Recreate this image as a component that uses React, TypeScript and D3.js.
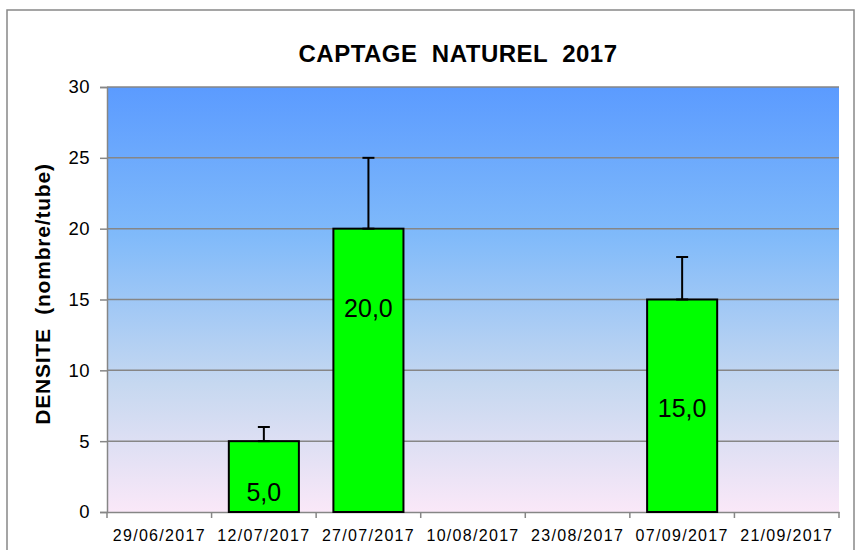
import React, { useEffect, useRef } from "react";
import * as d3 from "d3";

const dates = ["29/06/2017", "12/07/2017", "27/07/2017", "10/08/2017", "23/08/2017", "07/09/2017", "21/09/2017"];
const densite = [0, 5, 20, 0, 0, 15, 0];
const errPlus = [0, 1, 5, 0, 0, 3, 0];
// y value where each bar's label sits (as placed in the original)
const labelAt = [0, 1.4, 14.4, 0, 0, 7.35, 0];
const yTicks = [0, 5, 10, 15, 20, 25, 30];

const App = () => {
    const ref = useRef<HTMLDivElement>(null);

    useEffect(() => {
        const W = 855;
        const H = 550;
        const margin = { top: 87, right: 16, bottom: 38, left: 107 };
        const width = W - margin.left - margin.right;
        const height = H - margin.top - margin.bottom;
        const font = "'Liberation Sans', Arial, sans-serif";

        const svg = d3
            .select(ref.current)
            .html("")
            .append("svg")
            .attr("width", W)
            .attr("height", H)
            .style("display", "block")
            .style("font-family", font);

        const defs = svg.append("defs");
        const grad = defs
            .append("linearGradient")
            .attr("id", "bg")
            .attr("x1", 0)
            .attr("y1", 0)
            .attr("x2", 0)
            .attr("y2", 1);
        grad.append("stop").attr("offset", "0%").attr("stop-color", "#5b9bff");
        grad.append("stop").attr("offset", "35%").attr("stop-color", "#80bafa");
        grad.append("stop").attr("offset", "70%").attr("stop-color", "#c6d8f0");
        grad.append("stop").attr("offset", "100%").attr("stop-color", "#fae8f8");

        // outer frame
        svg.append("rect")
            .attr("x", 7)
            .attr("y", 10)
            .attr("width", 847)
            .attr("height", 560)
            .attr("fill", "white")
            .attr("stroke", "#888")
            .attr("stroke-width", 1.5);

        const chart = svg
            .append("g")
            .attr("transform", `translate(${margin.left},${margin.top})`);

        const x = d3.scaleBand().domain(dates).range([0, width]).paddingInner(0.33).paddingOuter(0.165);
        const xb = d3.scaleBand().domain(dates).range([0, width]);
        const y = d3.scaleLinear().domain([0, 30]).range([height, 0]);

        chart.append("rect")
            .attr("width", width)
            .attr("height", height)
            .attr("fill", "url(#bg)");

        // gridlines
        chart.append("g")
            .selectAll("line")
            .data(yTicks.filter((t) => t > 0))
            .join("line")
            .attr("x1", 0)
            .attr("x2", width)
            .attr("y1", (d) => y(d))
            .attr("y2", (d) => y(d))
            .attr("stroke", "#868686")
            .attr("stroke-width", 1.5);

        // y axis
        const yAxis = chart.append("g").call(d3.axisLeft(y).tickValues(yTicks).tickSize(7).tickPadding(10));
        yAxis.select(".domain").attr("stroke", "#868686").attr("stroke-width", 1.5);
        yAxis.selectAll(".tick line").attr("stroke", "#868686").attr("stroke-width", 1.5);
        yAxis.selectAll(".tick text")
            .attr("font-size", "18.5px")
            .attr("letter-spacing", "0.5px")
            .attr("font-family", font)
            .attr("fill", "#000");

        // x axis
        const xAxis = chart
            .append("g")
            .attr("transform", `translate(0,${height})`)
            .call(d3.axisBottom(xb).tickSize(0).tickPadding(18));
        xAxis.select(".domain").attr("stroke", "#868686").attr("stroke-width", 1.5);
        xAxis.selectAll(".tick text")
            .attr("font-size", "16px")
            .attr("letter-spacing", "1.3px")
            .attr("font-family", font)
            .attr("fill", "#000");
        chart.append("g")
            .selectAll("line")
            .data(dates.map((d) => xb(d) as number).concat([width]))
            .join("line")
            .attr("x1", (d) => d)
            .attr("x2", (d) => d)
            .attr("y1", height)
            .attr("y2", height + 6)
            .attr("stroke", "#868686")
            .attr("stroke-width", 1.5);

        const items = dates.map((d, i) => ({ date: d, v: densite[i], e: errPlus[i], l: labelAt[i] })).filter((d) => d.v > 0);

        // bars
        chart.append("g")
            .selectAll("rect")
            .data(items)
            .join("rect")
            .attr("x", (d) => x(d.date) as number)
            .attr("y", (d) => y(d.v))
            .attr("width", x.bandwidth())
            .attr("height", (d) => height - y(d.v))
            .attr("fill", "#00ff00")
            .attr("stroke", "#000")
            .attr("stroke-width", 2);

        // error bars
        const eb = chart.append("g").attr("stroke", "#000").attr("stroke-width", 2);
        items.forEach((d) => {
            const cx = (x(d.date) as number) + x.bandwidth() / 2;
            eb.append("line").attr("x1", cx).attr("x2", cx).attr("y1", y(d.v)).attr("y2", y(d.v + d.e));
            eb.append("line").attr("x1", cx - 6).attr("x2", cx + 6).attr("y1", y(d.v + d.e)).attr("y2", y(d.v + d.e));
            eb.append("line").attr("x1", cx - 6).attr("x2", cx + 6).attr("y1", y(d.v)).attr("y2", y(d.v));
        });

        // value labels
        chart.append("g")
            .selectAll("text")
            .data(items)
            .join("text")
            .attr("x", (d) => (x(d.date) as number) + x.bandwidth() / 2)
            .attr("y", (d) => y(d.l))
            .attr("dy", "0.35em")
            .attr("text-anchor", "middle")
            .attr("font-size", "25px")
            .attr("fill", "#000")
            .text((d) => d3.format(".1f")(d.v).replace(".", ","));

        svg.append("text")
            .attr("x", 458)
            .attr("y", 62)
            .attr("text-anchor", "middle")
            .attr("font-size", "24px")
            .attr("font-weight", "bold")
            .attr("letter-spacing", "0.5px")
            .attr("fill", "#000")
            .style("white-space", "pre")
            .text("CAPTAGE  NATUREL  2017");

        svg.append("text")
            .attr("transform", "rotate(-90)")
            .attr("x", -294)
            .attr("y", 50)
            .attr("text-anchor", "middle")
            .attr("font-size", "21px")
            .attr("font-weight", "bold")
            .attr("letter-spacing", "0.8px")
            .attr("fill", "#000")
            .style("white-space", "pre")
            .text("DENSITE  (nombre/tube)");
    }, []);

    return <div ref={ref} style={{ position: "absolute", left: 0, top: 0 }} />;
};

export default App;
